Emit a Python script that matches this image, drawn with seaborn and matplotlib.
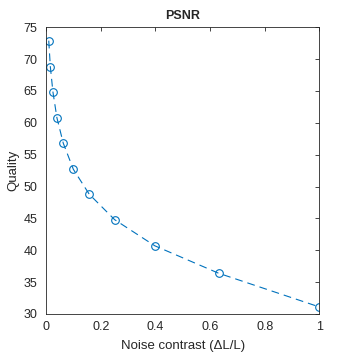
import numpy as np
import pandas as pd
import seaborn as sns
from matplotlib import pyplot as plt

# noise contrast levels and the PSNR quality
noise_contrast = [0.01, 0.0158, 0.0251, 0.0398, 0.0631, 0.1, 0.158, 0.251, 0.398, 0.631, 1.0]
quality = [72.9, 68.8, 64.9, 60.8, 56.8, 52.7, 48.8, 44.8, 40.7, 36.4, 31.1]
x_ticks = [0, 0.2, 0.4, 0.6, 0.8, 1]
y_ticks = [30, 35, 40, 45, 50, 55, 60, 65, 70, 75]

sns.set_style("white")
plt.rcParams['font.family'] = ['Liberation Sans', 'DejaVu Sans']

df = pd.DataFrame({'contrast': noise_contrast, 'quality': quality})

fig = plt.figure(figsize=(3.54, 3.54), dpi=100)
ax = fig.add_axes([0.130, 0.113, 0.7725, 0.810])

blue = '#0072BD'
sns.lineplot(data=df, x='contrast', y='quality', ax=ax, color=blue,
             linewidth=0.8, marker='o', markersize=5.5,
             markerfacecolor='none', markeredgecolor=blue, markeredgewidth=0.8)
ax.lines[0].set_linestyle((0, (7, 4.5)))

ax.set_xlim(0, 1)
ax.set_ylim(30, 75)
ax.set_xticks(x_ticks)
ax.set_xticklabels([str(t) for t in x_ticks])
ax.set_yticks(y_ticks)
ax.tick_params(direction='in', length=3, width=0.6, colors='#262626',
               labelsize=9, top=True, right=True)
ax.tick_params(axis='y', pad=6)
ax.tick_params(axis='x', pad=5)
for s in ax.spines.values():
    s.set_color('#262626')
    s.set_linewidth(0.6)

ax.set_xlabel('Noise contrast (ΔL/L)', fontsize=9.5, color='#262626', labelpad=5)
ax.set_ylabel('Quality', fontsize=9.5, color='#262626', labelpad=3)
ax.set_title('PSNR', fontsize=9, fontweight='bold', pad=6)

fig.savefig('out.png', dpi=100)
